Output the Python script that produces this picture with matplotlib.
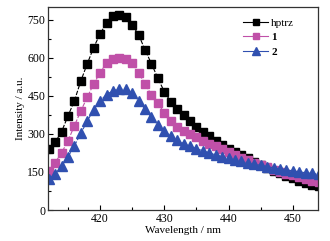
import matplotlib
matplotlib.use("Agg")
import matplotlib.pyplot as plt
from matplotlib.ticker import MultipleLocator

plt.rcParams['font.family'] = ['Liberation Serif', 'DejaVu Serif']

wavelength = list(range(412, 455))

hptrz = [241, 267, 308, 370, 430, 508, 576, 640, 694, 737,
         763, 767, 760, 730, 690, 631, 576, 519, 466, 427,
         397, 374, 351, 328, 308, 291, 272, 255, 242, 229,
         216, 203, 190, 178, 166, 155, 144, 134, 125, 116,
         108, 100, 93]

c1 = [152, 187, 225, 272, 332, 390, 444, 497, 541, 580,
      594, 598, 594, 579, 539, 497, 453, 420, 383, 350,
      328, 312, 299, 286, 272, 262, 251, 240, 228, 217,
      206, 196, 186, 177, 168, 159, 151, 143, 136, 129,
      122, 116, 110]

c2 = [122, 142, 172, 209, 253, 302, 350, 395, 430, 455,
      470, 477, 475, 460, 430, 397, 365, 334, 312, 290,
      275, 262, 251, 242, 233, 225, 217, 210, 204, 198,
      192, 186, 181, 176, 171, 166, 162, 158, 154, 150,
      147, 144, 141]

series_names = ['hptrz', '1', '2']

fig = plt.figure(figsize=(3.3, 2.41), dpi=100)
ax = fig.add_axes([0.1455, 0.1286, 0.818, 0.8424])

ax.plot(wavelength, hptrz, color='black', marker='s', markersize=5.6,
        linestyle=(0, (4, 1.5)), linewidth=0.8, label=series_names[0])
ax.plot(wavelength, c1, color='#c050a8', marker='s', markersize=5.6,
        linestyle=(0, (4, 1.5)), linewidth=0.8, label=series_names[1])
ax.plot(wavelength, c2, color='#3050b0', marker='^', markersize=6.8,
        linestyle=(0, (4, 1.5)), linewidth=0.8, label=series_names[2])

ax.set_xlim(411.9, 453.9)
ax.set_ylim(0, 800)
ax.xaxis.set_major_locator(MultipleLocator(10))
ax.xaxis.set_minor_locator(MultipleLocator(5))
ax.yaxis.set_major_locator(MultipleLocator(150))
ax.yaxis.set_minor_locator(MultipleLocator(75))
ax.tick_params(which='both', direction='in', top=False, right=False,
               labelsize=8.5, pad=2)
ax.tick_params(which='major', length=3.5, width=0.8)
ax.tick_params(which='minor', length=2, width=0.8)
for s in ax.spines.values():
    s.set_linewidth(0.9)
    s.set_color('#333333')

ax.set_xlabel('Wavelength / nm', fontsize=8, labelpad=1)
ax.set_ylabel('Intensity / a.u.', fontsize=8, labelpad=2)

leg = ax.legend(loc='upper right', frameon=False, fontsize=8, handlelength=2.2,
                handletextpad=0.3, labelspacing=0.45, markerscale=0.8,
                bbox_to_anchor=(0.94, 0.985), borderaxespad=0.3)
for line in leg.get_lines():
    line.set_linestyle('-')
for t in leg.get_texts()[1:]:
    t.set_fontweight('bold')

fig.savefig('out.png', dpi=100)
